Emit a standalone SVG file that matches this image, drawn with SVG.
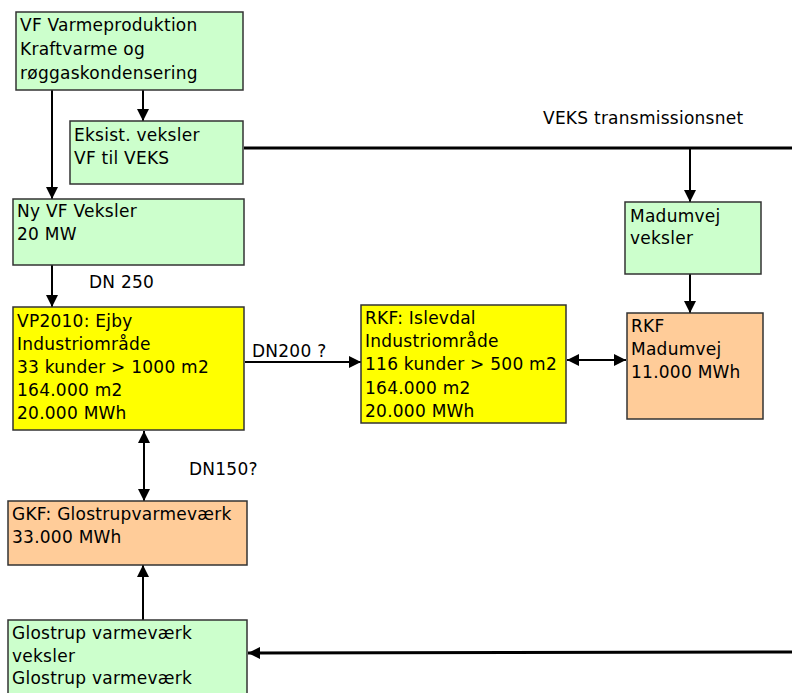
<svg xmlns="http://www.w3.org/2000/svg" width="792" height="693" viewBox="0 0 792 693">
<style>
  text { font-family: "DejaVu Sans", Verdana, sans-serif; font-size: 17px; letter-spacing: 0.25px; fill: #000; }
  .box { stroke: #333; stroke-width: 1.5; }
  .green { fill: #CCFFCC; }
  .yellow { fill: #FFFF00; }
  .orange { fill: #FFCC99; }
  .c { stroke: #000; stroke-width: 2; fill: none; }
  .thick { stroke: #000; stroke-width: 3; fill: none; }
</style>
<defs>
  <marker id="ah" markerUnits="userSpaceOnUse" markerWidth="12" markerHeight="12" viewBox="0 0 12 12" refX="12" refY="6" orient="auto-start-reverse">
    <path d="M0,0 L12,6 L0,12 Z" fill="#000"/>
  </marker>
</defs>
<rect width="792" height="693" fill="#fff"/>

<g id="connectors">
  <line class="c" x1="52" y1="90" x2="52" y2="199" marker-end="url(#ah)"/>
  <line class="c" x1="143" y1="90" x2="143" y2="121" marker-end="url(#ah)"/>
  <line class="thick" x1="244" y1="148" x2="792" y2="148"/>
  <text x="543" y="124">VEKS transmissionsnet</text>
  <line class="c" x1="690" y1="149" x2="690" y2="202" marker-end="url(#ah)"/>
  <line class="c" x1="52" y1="265" x2="52" y2="307" marker-end="url(#ah)"/>
  <text x="89" y="288">DN 250</text>
  <line class="c" x1="245" y1="362" x2="361" y2="362" marker-end="url(#ah)"/>
  <text x="252" y="357">DN200 ?</text>
  <line class="c" x1="567" y1="360" x2="626" y2="360" marker-start="url(#ah)" marker-end="url(#ah)"/>
  <line class="c" x1="690" y1="274" x2="690" y2="313" marker-end="url(#ah)"/>
  <line class="c" x1="144" y1="431" x2="144" y2="501" marker-start="url(#ah)" marker-end="url(#ah)"/>
  <text x="189" y="475">DN150?</text>
  <line class="c" x1="143" y1="620" x2="143" y2="565" marker-end="url(#ah)"/>
  <line class="thick" x1="792" y1="652" x2="248" y2="653" marker-end="url(#ah)"/>
</g>

<g id="vf-varmeproduktion">
  <rect class="box green" x="16" y="12" width="227" height="78"/>
  <text x="20" y="31">VF Varmeproduktion</text>
  <text x="20" y="55">Kraftvarme og</text>
  <text x="20" y="79">røggaskondensering</text>
</g>

<g id="eksist-veksler">
  <rect class="box green" x="70" y="121" width="173" height="63"/>
  <text x="74" y="141">Eksist. veksler</text>
  <text x="74" y="164">VF til VEKS</text>
</g>

<g id="ny-vf-veksler">
  <rect class="box green" x="13" y="199" width="231" height="66"/>
  <text x="17" y="217">Ny VF Veksler</text>
  <text x="17" y="240">20 MW</text>
</g>

<g id="vp2010-ejby">
  <rect class="box yellow" x="13" y="307" width="231" height="123"/>
  <text x="17" y="327">VP2010: Ejby</text>
  <text x="17" y="350">Industriområde</text>
  <text x="17" y="373">33 kunder &gt; 1000 m2</text>
  <text x="17" y="396">164.000 m2</text>
  <text x="17" y="419">20.000 MWh</text>
</g>

<g id="rkf-islevdal">
  <rect class="box yellow" x="361" y="305" width="205" height="118"/>
  <text x="365" y="324">RKF: Islevdal</text>
  <text x="365" y="347">Industriområde</text>
  <text x="365" y="370">116 kunder &gt; 500 m2</text>
  <text x="365" y="394">164.000 m2</text>
  <text x="365" y="417">20.000 MWh</text>
</g>

<g id="madumvej-veksler">
  <rect class="box green" x="625" y="202" width="136" height="72"/>
  <text x="630" y="222">Madumvej</text>
  <text x="630" y="244">veksler</text>
</g>

<g id="rkf-madumvej">
  <rect class="box orange" x="627" y="313" width="136" height="106"/>
  <text x="631" y="332">RKF</text>
  <text x="631" y="355">Madumvej</text>
  <text x="631" y="378">11.000 MWh</text>
</g>

<g id="gkf-glostrup">
  <rect class="box orange" x="8" y="501" width="239" height="64"/>
  <text x="12" y="520">GKF: Glostrupvarmeværk</text>
  <text x="12" y="543">33.000 MWh</text>
</g>

<g id="glostrup-veksler">
  <rect class="box green" x="8" y="620" width="239" height="80"/>
  <text x="12" y="639">Glostrup varmeværk</text>
  <text x="12" y="662">veksler</text>
  <text x="12" y="684">Glostrup varmeværk</text>
</g>
</svg>
